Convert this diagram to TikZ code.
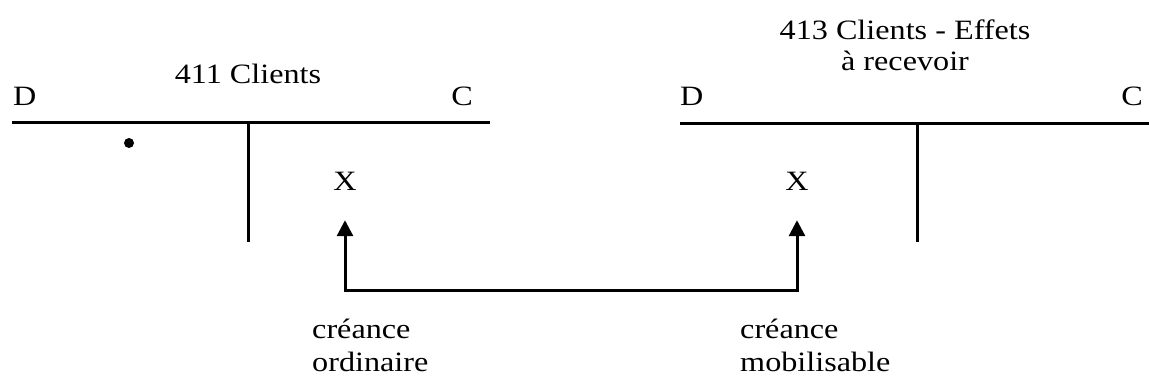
\documentclass[tikz,border=0pt]{standalone}
\usepackage{fontspec}
\setmainfont{Liberation Serif}[FakeStretch=1.15]
\usetikzlibrary{arrows.meta}
\begin{document}
\begin{tikzpicture}[x=1pt,y=-1pt,
  txt/.style={inner sep=0pt,font=\fontsize{28}{30}\selectfont},
  ln/.style={line width=3pt},
  arr/.style={line width=3pt,{Triangle[width=16pt,length=16pt]}-{Triangle[width=16pt,length=16pt]}}]
\useasboundingbox (0,0) rectangle (1149,384);
% left account
\node[txt,anchor=base] (t1) at (248,83) {411 Clients};
\node[txt,anchor=base west] (d1) at (13,105) {D};
\node[txt,anchor=base east] (c1) at (473,105) {C};
\coordinate (h1a) at (12,122);
\coordinate (h1b) at (490,122);
\coordinate (v1a) at (248,122);
\coordinate (v1b) at (248,242);
\draw[ln] (h1a) -- (h1b);
\draw[ln] (v1a) -- (v1b);
\fill (129,143) circle (5pt);
\node[txt,anchor=base] (xl) at (345,190) {X};
% right account
\node[txt,anchor=base] (t2) at (905,39) {413 Clients - Effets};
\node[txt,anchor=base] (t2b) at (905,70) {à recevoir};
\node[txt,anchor=base west] (d2) at (680,105) {D};
\node[txt,anchor=base east] (c2) at (1143,105) {C};
\coordinate (h2a) at (680,123);
\coordinate (h2b) at (1149,123);
\coordinate (v2a) at (917,123);
\coordinate (v2b) at (917,242);
\draw[ln] (h2a) -- (h2b);
\draw[ln] (v2a) -- (v2b);
\node[txt,anchor=base] (xr) at (797,190) {X};
% connector
\coordinate (al) at (345,290);
\coordinate (ar) at (797,290);
\draw[arr] ([yshift=-30pt]xl.south) -- (al) -- (ar) -- ([yshift=-30pt]xr.south);
% labels
\node[txt,anchor=base west] (l1) at (312,338) {créance};
\node[txt,anchor=base west] (l1b) at (312,371) {ordinaire};
\node[txt,anchor=base west] (l2) at (740,338) {créance};
\node[txt,anchor=base west] (l2b) at (740,371) {mobilisable};
\end{tikzpicture}
\end{document}
